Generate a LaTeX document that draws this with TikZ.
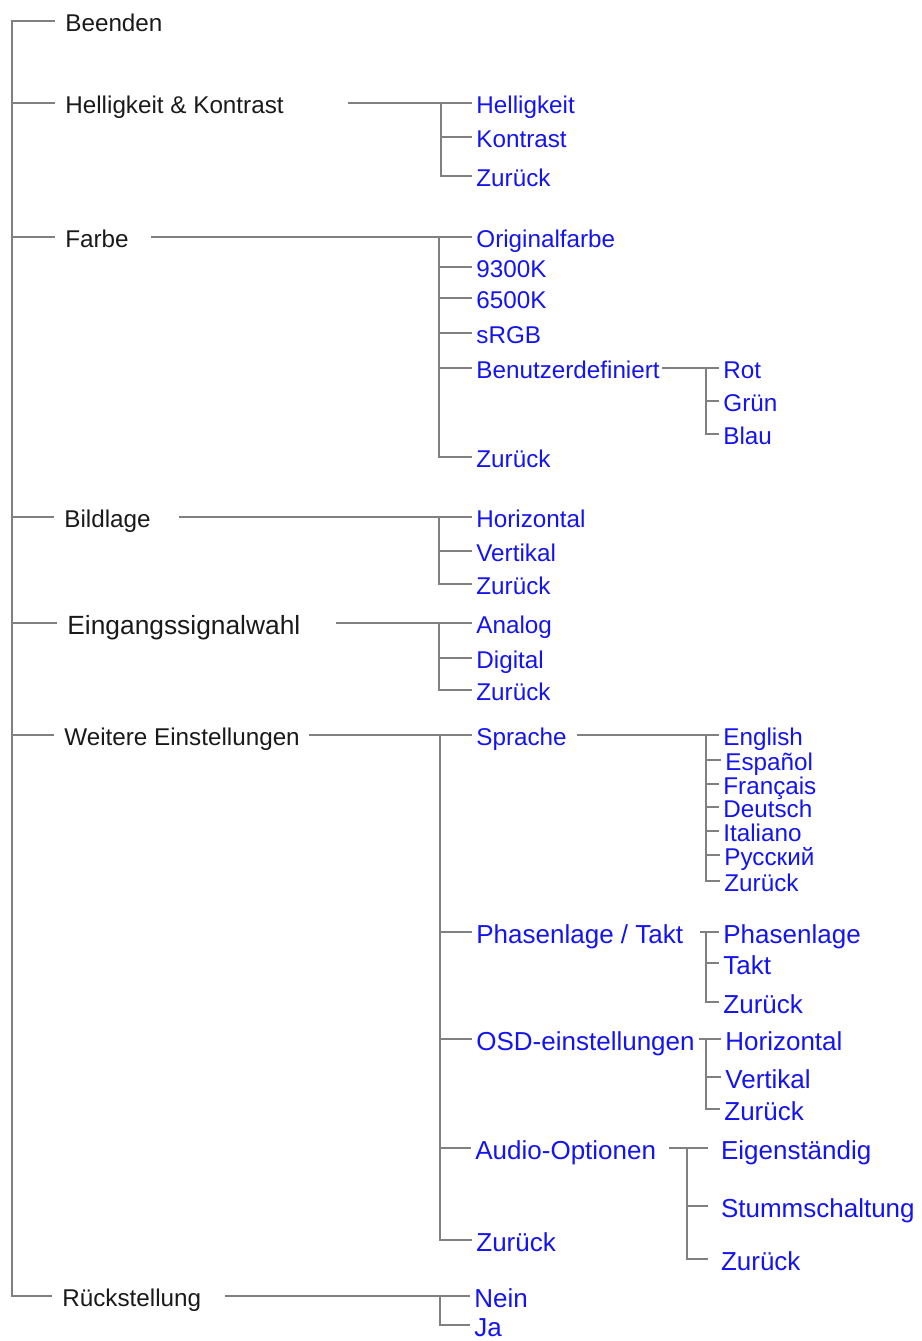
\documentclass[tikz,border=0pt]{standalone}
\usepackage{fontspec}
\setmainfont{Liberation Sans}
\usepackage{tikz}
\definecolor{ink}{HTML}{1A1A1A}
\definecolor{menublue}{HTML}{1414F0}
\definecolor{linegray}{HTML}{808080}

\begin{document}
\begin{tikzpicture}[x=0.02cm, y=-0.02cm,
    menu/.style={anchor=west, inner ysep=0pt, inner xsep=5.7pt, text height=12pt,
      text depth=0pt, text=ink, font=\fontsize{13.8}{15}\selectfont},
    item/.style={menu, inner xsep=2.3pt, text=menublue},
    big/.style={font=\fontsize{14.8}{16}\selectfont, text height=13pt},
    wide/.style={inner xsep=7.2pt},
    link/.style={draw=linegray, line width=0.9pt}]
  \useasboundingbox (0,0) rectangle (922,1341);
  % Hauptmenue: Koordinaten in Pixeln des Originals
  \node[menu] (beenden) at (55,21)   {Beenden};
  \node[menu] (hk)      at (55,103)  {Helligkeit \& Kontrast};
  \node[menu] (farbe)   at (55,237)  {Farbe};
  \node[menu] (bild)    at (54,517)  {Bildlage};
  \node[menu, font=\fontsize{15}{17}\selectfont, text height=13pt] (eing) at (57,623) {Eingangssignalwahl};
  \node[menu] (weit)    at (54,735)  {Weitere Einstellungen};
  \node[menu] (rueck)   at (52,1296) {Rückstellung};
  \coordinate (root) at (12,21);
  \draw[link] (beenden.west) -- (root) |- (rueck.west);
  \foreach \n in {hk,farbe,bild,eing,weit}
    \draw[link] (root |- \n.west) -- (\n.west);

  % Helligkeit & Kontrast
  \node[item] (hell)  at (472,103) {Helligkeit};
  \node[item] (kontr) at (472,137) {Kontrast};
  \node[item] (hkz)   at (472,176) {Zurück};
  \coordinate (hko) at (348,103);
  \coordinate (hkj) at (441,103);
  \draw[link] (hko) -- (hell.west) (hkj) |- (hkz.west)
    (hkj |- kontr.west) -- (kontr.west);

  % Farbe
  \node[item] (orig) at (472,237) {Originalfarbe};
  \node[item] (k93)  at (472,267) {9300K};
  \node[item] (k65)  at (472,298) {6500K};
  \node[item] (srgb) at (472,333) {sRGB};
  \node[item] (benu) at (472,368) {Benutzerdefiniert};
  \node[item] (fz)   at (472,457) {Zurück};
  \coordinate (fo) at (151,237);
  \coordinate (fj) at (439,237);
  \draw[link] (fo) -- (orig.west) (fj) |- (fz.west);
  \foreach \n in {k93,k65,srgb,benu}
    \draw[link] (fj |- \n.west) -- (\n.west);

  \node[item] (rot)   at (719,368) {Rot};
  \node[item] (gruen) at (719,401) {Grün};
  \node[item] (blau)  at (719,434) {Blau};
  \coordinate (bo) at (662,368);
  \coordinate (bj) at (706,368);
  \draw[link] (bo) -- (rot.west) (bj) |- (blau.west)
    (bj |- gruen.west) -- (gruen.west);

  % Bildlage
  \node[item] (horiz) at (472,517) {Horizontal};
  \node[item] (vert)  at (472,551) {Vertikal};
  \node[item] (bz)    at (472,584) {Zurück};
  \coordinate (blo) at (179,517);
  \coordinate (blj) at (439,517);
  \draw[link] (blo) -- (horiz.west) (blj) |- (bz.west)
    (blj |- vert.west) -- (vert.west);

  % Eingangssignalwahl
  \node[item] (analog)  at (472,623) {Analog};
  \node[item] (digital) at (472,658) {Digital};
  \node[item] (ez)      at (472,690) {Zurück};
  \coordinate (eo) at (336,623);
  \coordinate (ej) at (439,623);
  \draw[link] (eo) -- (analog.west) (ej) |- (ez.west)
    (ej |- digital.west) -- (digital.west);

  % Weitere Einstellungen
  \node[item]      (sprache) at (472,735)  {Sprache};
  \node[item, big] (phase)   at (472,932)  {Phasenlage / Takt};
  \node[item, big] (osd)     at (472,1039) {OSD-einstellungen};
  \node[item, big] (audio)   at (471,1148) {Audio-Optionen};
  \node[item, big] (wz)      at (472,1240) {Zurück};
  \coordinate (wo) at (309,735);
  \coordinate (wj) at (440,735);
  \draw[link] (wo) -- (sprache.west) (wj) |- (wz.west);
  \foreach \n in {phase,osd,audio}
    \draw[link] (wj |- \n.west) -- (\n.west);

  \node[item] (en) at (719,735) {English};
  \node[item] (es) at (721,760) {Español};
  \node[item] (fr) at (719,784) {Français};
  \node[item] (de) at (719,807) {Deutsch};
  \node[item] (it) at (719,831) {Italiano};
  \node[item] (ru) at (720,855) {Русский};
  \node[item] (sz) at (720,881) {Zurück};
  \coordinate (so) at (577,735);
  \coordinate (sj) at (706,735);
  \draw[link] (so) -- (en.west) (sj) |- (sz.west);
  \foreach \n in {es,fr,de,it,ru}
    \draw[link] (sj |- \n.west) -- (\n.west);

  \node[item, big] (ph)   at (719,932)  {Phasenlage};
  \node[item, big] (takt) at (719,963)  {Takt};
  \node[item, big] (pz)   at (719,1002) {Zurück};
  \coordinate (po) at (700,932);
  \coordinate (pj) at (706,932);
  \draw[link] (po) -- (ph.west) (pj) |- (pz.west)
    (pj |- takt.west) -- (takt.west);

  \node[item, big] (oh) at (721,1039) {Horizontal};
  \node[item, big] (ov) at (721,1077) {Vertikal};
  \node[item, big] (oz) at (720,1109) {Zurück};
  \coordinate (oo) at (699,1039);
  \coordinate (oj) at (706,1039);
  \draw[link] (oo) -- (oh.west) (oj) |- (oz.west)
    (oj |- ov.west) -- (ov.west);

  \node[item, big, wide] (eig)   at (708,1148) {Eigenständig};
  \node[item, big, wide] (stumm) at (708,1206) {Stummschaltung};
  \node[item, big, wide] (az)    at (708,1259) {Zurück};
  \coordinate (ao) at (669,1148);
  \coordinate (aj) at (687,1148);
  \draw[link] (ao) -- (eig.west) (aj) |- (az.west)
    (aj |- stumm.west) -- (stumm.west);

  % Rueckstellung
  \node[item, big] (nein) at (470,1296) {Nein};
  \node[item, big] (ja)   at (470,1325) {Ja};
  \coordinate (ro) at (225,1296);
  \coordinate (rj) at (440,1296);
  \draw[link] (ro) -- (nein.west) (rj) |- (ja.west);
\end{tikzpicture}
\end{document}
